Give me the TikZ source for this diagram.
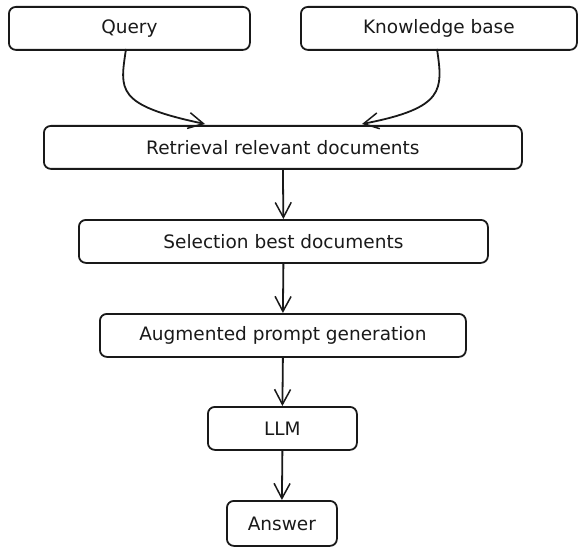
\documentclass[tikz,border=0pt]{standalone}
\usepackage{fontspec}
\setmainfont{DejaVu Sans}
\usetikzlibrary{arrows.meta}
\begin{document}
\begin{tikzpicture}[x=1pt,y=-1pt,
  box/.style={draw=black!90,line width=1.8pt,rounded corners=7pt},
  lbl/.style={font=\fontsize{18.5}{20}\selectfont,text=black!90},
  conn/.style={draw=black!90,line width=1.8pt,-{Straight Barb[length=15pt,width=16pt,line width=1.5pt]}}]
\useasboundingbox (0,0) rectangle (582,551);
\node[box,minimum width=241pt,minimum height=43pt,anchor=north west] (q) at (8,6) {};
\node[lbl] at (q.center) {Query};
\node[box,minimum width=276pt,minimum height=43pt,anchor=north west] (k) at (300,6) {};
\node[lbl] at (k.center) {Knowledge base};
\node[box,minimum width=478pt,minimum height=43pt,anchor=north west] (r) at (43,125) {};
\node[lbl] at (r.center) {Retrieval relevant documents};
\node[box,minimum width=409pt,minimum height=43pt,anchor=north west] (s) at (78,219) {};
\node[lbl] at (s.center) {Selection best documents};
\node[box,minimum width=366pt,minimum height=43pt,anchor=north west] (a) at (99,313) {};
\node[lbl] at (a.center) {Augmented prompt generation};
\node[box,minimum width=149pt,minimum height=43pt,anchor=north west] (l) at (207,406) {};
\node[lbl] at (l.center) {LLM};
\node[box,minimum width=110pt,minimum height=45pt,anchor=north west] (ans) at (226,500) {};
\node[lbl] at (ans.center) {Answer};
\coordinate (qs) at (126,49);
\coordinate (ks) at (437,49);
\coordinate (rt1) at (205,124);
\coordinate (rt2) at (362,124);
\draw[conn] (qs) .. controls (120,90) and (115,105) .. (rt1);
\draw[conn] (ks) .. controls (443,90) and (445,108) .. (rt2);
\draw[conn] (r.south) -- (s.north);
\draw[conn] (s.south) -- (a.north);
\draw[conn] (a.south) -- (l.north);
\draw[conn] (l.south) -- (ans.north);
\end{tikzpicture}
\end{document}
